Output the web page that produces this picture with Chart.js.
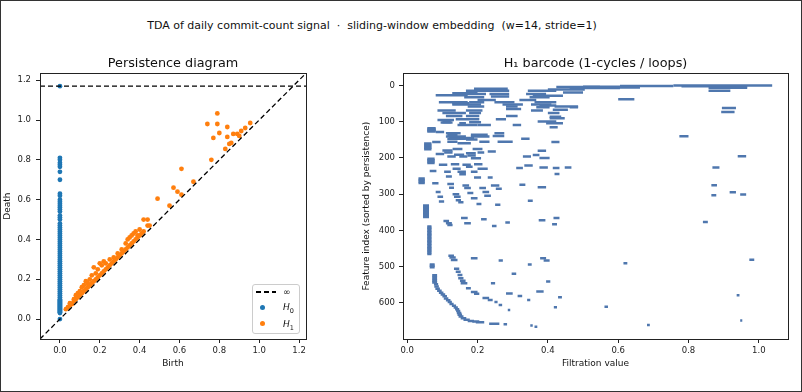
<!DOCTYPE html>
<html>
<head>
<meta charset="utf-8">
<script src="https://cdn.jsdelivr.net/npm/chart.js@4.4.1/dist/chart.umd.min.js"></script>
<style>
  html, body { margin: 0; padding: 0; background: #fff; }
  #fig { position: relative; width: 802px; height: 392px; overflow: hidden; font-family: 'DejaVu Sans', sans-serif; color: #111; }
  #fig canvas { position: absolute; top: 0; }
  #frame { position: absolute; left: 0; top: 0; width: 802px; height: 392px; box-sizing: border-box; border: 1px solid #333; pointer-events: none; }
  #suptitle { position: absolute; top: 19px; left: 0; width: 744px; text-align: center; font-size: 11px; line-height: 13px; white-space: pre; }
  .lg-box { position: absolute; left: 252px; top: 284px; width: 48px; height: 50px; box-sizing: border-box; border: 1px solid #ccc; border-radius: 3px; background: rgba(255,255,255,0.8); }
  .lg-dash { position: absolute; left: 256px; top: 291px; width: 20px; height: 1.5px; background: repeating-linear-gradient(90deg, #000 0 5px, transparent 5px 8px); }
  .lg-dot { position: absolute; width: 5px; height: 5px; border-radius: 50%; }
  .lg-txt { position: absolute; left: 283px; font-size: 9px; line-height: 10px; }
  .lg-txt sub { font-size: 6.5px; font-style: normal; }
</style>
</head>
<body>
<div id="fig">
  <div id="suptitle">TDA of daily commit-count signal  ·  sliding-window embedding  (w=14, stride=1)</div>
  <canvas id="pdChart" width="330" height="392" style="left:0"></canvas>
  <canvas id="barChart" width="472" height="392" style="left:330px"></canvas>
  <div class="lg-box"></div>
  <div class="lg-dash"></div>
  <div class="lg-txt" style="top:287px">∞</div>
  <div class="lg-dot" style="left:260px;top:305px;background:#1f77b4"></div>
  <div class="lg-txt" style="top:302px"><i>H</i><sub>0</sub></div>
  <div class="lg-dot" style="left:260px;top:321px;background:#ff7f0e"></div>
  <div class="lg-txt" style="top:319px"><i>H</i><sub>1</sub></div>
  <div id="frame"></div>
</div>
<script>
// Persistence diagram: H0 deaths (all born at 0), H1 (birth, death) pairs
const h0Inf = 1.17;
const h0Death = [
  1.17, 0.81, 0.80, 0.785, 0.775, 0.765, 0.74, 0.70, 0.63, 0.62,
  0.60, 0.59, 0.58, 0.57, 0.56, 0.55, 0.54, 0.52, 0.51, 0.50,
  0.48, 0.47, 0.46, 0.45, 0.44, 0.43, 0.42, 0.41, 0.40, 0.39,
  0.38, 0.37, 0.36, 0.35, 0.34, 0.33, 0.32, 0.31, 0.30, 0.29,
  0.28, 0.27, 0.26, 0.25, 0.24, 0.23, 0.22, 0.21, 0.20, 0.19,
  0.18, 0.17, 0.16, 0.15, 0.14, 0.13, 0.12, 0.11, 0.10, 0.095,
  0.09, 0.085, 0.08, 0.075, 0.07, 0.065, 0.06, 0.055, 0.05, 0.045,
  0.04, 0.035, 0.03, 0.0
];
const h1Birth = [
  0.03, 0.04, 0.05, 0.05, 0.06, 0.07, 0.07, 0.08, 0.08, 0.09,
  0.09, 0.10, 0.10, 0.11, 0.11, 0.12, 0.12, 0.13, 0.13, 0.14,
  0.14, 0.15, 0.15, 0.16, 0.16, 0.17, 0.17, 0.18, 0.18, 0.19,
  0.19, 0.20, 0.20, 0.21, 0.21, 0.22, 0.22, 0.23, 0.23, 0.24,
  0.25, 0.25, 0.26, 0.27, 0.27, 0.28, 0.29, 0.29, 0.30, 0.31,
  0.31, 0.32, 0.33, 0.33, 0.34, 0.34, 0.35, 0.35, 0.36, 0.36,
  0.37, 0.37, 0.38, 0.38, 0.39, 0.39, 0.40, 0.40, 0.41, 0.42,
  0.42, 0.44, 0.44, 0.45, 0.49, 0.55, 0.57, 0.59, 0.61, 0.61,
  0.67, 0.76, 0.74, 0.79, 0.79, 0.80, 0.77, 0.84, 0.84, 0.83,
  0.85, 0.87, 0.89, 0.91, 0.93, 0.955, 0.86, 0.90
];
const h1Death = [
  0.05, 0.06, 0.07, 0.08, 0.075, 0.09, 0.10, 0.10, 0.12, 0.11,
  0.13, 0.12, 0.14, 0.13, 0.16, 0.14, 0.17, 0.15, 0.19, 0.16,
  0.18, 0.17, 0.20, 0.18, 0.22, 0.19, 0.26, 0.20, 0.23, 0.21,
  0.25, 0.22, 0.28, 0.23, 0.27, 0.24, 0.29, 0.25, 0.28, 0.26,
  0.27, 0.30, 0.28, 0.29, 0.31, 0.30, 0.31, 0.33, 0.32, 0.33,
  0.35, 0.34, 0.35, 0.38, 0.36, 0.40, 0.37, 0.41, 0.38, 0.42,
  0.39, 0.43, 0.40, 0.44, 0.41, 0.42, 0.42, 0.45, 0.43, 0.44,
  0.50, 0.50, 0.47, 0.47, 0.605, 0.57, 0.66, 0.64, 0.625, 0.755,
  0.69, 0.80, 0.98, 1.033, 0.98, 0.935, 0.91, 0.965, 0.915, 0.855,
  0.88, 0.93, 0.93, 0.945, 0.96, 0.985, 0.885, 0.92
];
const pdTicks = [0.0, 0.2, 0.4, 0.6, 0.8, 1.0, 1.2];
const pdMin = -0.1, pdMax = 1.235;

// H1 barcode: feature index, birth, death
const barIdx = [
  0, 1, 2, 3, 4, 5, 6, 7, 9, 11,
  14, 14, 14, 19, 21, 23, 23, 23, 27, 28,
  30, 32, 32, 38, 40, 40, 46, 46, 46, 46,
  49, 52, 52, 52, 55, 58, 58, 58, 60, 60,
  62, 65, 67, 69, 69, 69, 73, 76, 76, 76,
  84, 84, 84, 86, 90, 93, 93, 95, 99, 101,
  101, 102, 104, 104, 109, 109, 109, 115, 118, 121,
  124, 127, 128, 132, 132, 136, 136, 139, 140, 141,
  141, 145, 147, 147, 149, 155, 155, 155, 156, 156,
  159, 160, 164, 168, 172, 176, 175, 175, 179, 180,
  182, 185, 185, 187, 189, 191, 192, 193, 195, 196,
  196, 196, 200, 201, 202, 206, 210, 214, 217, 217,
  219, 219, 221, 224, 226, 226, 226, 228, 228, 230,
  230, 236, 238, 238, 238, 244, 245, 251, 254, 254,
  257, 261, 265, 269, 270, 272, 274, 275, 276, 276,
  281, 282, 283, 283, 285, 294, 294, 295, 297, 300,
  301, 303, 304, 307, 307, 311, 317, 318, 320, 322,
  327, 329, 331, 335, 339, 343, 347, 351, 355, 359,
  363, 366, 366, 369, 372, 374, 377, 378, 380, 380,
  383, 385, 388, 389, 393, 397, 401, 405, 409, 413,
  417, 421, 425, 429, 433, 437, 441, 445, 449, 453,
  457, 461, 465, 470, 475, 477, 477, 481, 482, 483,
  483, 491, 494, 494, 498, 502, 506, 514, 520, 523,
  524, 529, 534, 539, 544, 532, 539, 541, 546, 546,
  549, 555, 560, 561, 567, 569, 570, 572, 574, 575,
  577, 579, 581, 582, 585, 587, 588, 592, 592, 593,
  598, 598, 603, 606, 608, 611, 612, 613, 618, 620,
  623, 628, 633, 638, 643, 647, 649, 650, 652, 654,
  658, 659, 661, 663, 666
];
const barBirth = [
  .757, .605, .780, .500, .424, .576, .857, .462, .190, .400,
  .343, .167, .857, .443, .128, .167, .234, .338, .081, .357,
  .238, .162, .348, .600, .319, .200, .090, .176, .248, .362,
  .128, .128, .271, .352, .376, .172, .281, .419, .367, .462,
  .895, .281, .414, .086, .167, .352, .893, .100, .176, .400,
  .110, .167, .281, .405, .405, .252, .138, .086, .371, .100,
  .176, .095, .395, .148, .143, .200, .300, .405, .057, .057,
  .057, .057, .081, .110, .248, .181, .114, .243, .774, .110,
  .181, .119, .114, .324, .167, .114, .205, .257, .071, .410,
  .143, .048, .048, .048, .048, .048, .129, .186, .100, .371,
  .229, .105, .200, .167, .081, .133, .357, .171, .940, .114,
  .148, .329, .376, .181, .057, .057, .057, .057, .124, .190,
  .090, .157, .333, .167, .448, .376, .868, .310, .414, .129,
  .200, .064, .105, .143, .181, .419, .148, .110, .190, .229,
  .032, .032, .032, .032, .071, .114, .319, .865, .157, .238,
  .371, .119, .162, .205, .252, .081, .214, .917, .171, .129,
  .947, .865, .219, .086, .133, .181, .138, .343, .090, .145,
  .197, .250, .045, .045, .045, .045, .045, .045, .045, .045,
  .045, .153, .416, .210, .374, .103, .841, .279, .110, .162,
  .412, .114, .241, .057, .057, .057, .057, .057, .057, .057,
  .057, .057, .057, .057, .057, .057, .057, .057, .057, .057,
  .057, .057, .057, .117, .120, .181, .378, .973, .124, .260,
  .388, .615, .343, .064, .064, .064, .133, .138, .297, .143,
  .071, .071, .071, .071, .071, .145, .150, .395, .152, .238,
  .076, .077, .167, .080, .085, .367, .181, .090, .281, .190,
  .095, .937, .314, .100, .429, .214, .104, .229, .341, .110,
  .248, .115, .120, .260, .127, .561, .417, .132, .136, .286,
  .139, .141, .143, .146, .152, .160, .947, .172, .185, .195,
  .233, .274, .682, .350, .362
];
const barDeath = [
  1.038, .757, .967, .605, .548, .662, .967, .605, .286, .505,
  .424, .290, .919, .500, .200, .224, .290, .395, .172, .443,
  .290, .219, .405, .646, .367, .252, .172, .219, .305, .424,
  .176, .210, .329, .410, .424, .219, .314, .486, .405, .486,
  .935, .324, .457, .138, .214, .386, .931, .167, .210, .433,
  .157, .205, .314, .438, .448, .281, .205, .133, .424, .124,
  .210, .129, .443, .167, .200, .238, .324, .428, .081, .081,
  .081, .081, .105, .152, .276, .229, .143, .276, .800, .167,
  .234, .190, .167, .348, .200, .143, .234, .300, .095, .433,
  .181, .069, .069, .069, .069, .069, .157, .214, .129, .395,
  .252, .129, .219, .195, .105, .162, .376, .195, .964, .138,
  .171, .352, .405, .210, .078, .078, .078, .078, .148, .214,
  .114, .181, .357, .186, .467, .400, .888, .329, .433, .152,
  .229, .083, .124, .167, .200, .433, .167, .127, .210, .243,
  .050, .050, .050, .050, .089, .133, .336, .881, .176, .262,
  .395, .133, .181, .224, .269, .095, .233, .935, .188, .148,
  .964, .879, .238, .102, .152, .200, .153, .357, .105, .160,
  .211, .265, .062, .062, .062, .062, .062, .062, .062, .062,
  .062, .172, .433, .226, .393, .119, .855, .292, .127, .181,
  .426, .129, .254, .069, .069, .069, .069, .069, .069, .069,
  .069, .069, .069, .069, .069, .069, .069, .069, .069, .069,
  .069, .069, .069, .133, .138, .200, .395, .987, .143, .272,
  .405, .626, .354, .078, .078, .078, .148, .152, .310, .157,
  .085, .085, .085, .085, .085, .160, .166, .407, .171, .250,
  .088, .090, .181, .093, .098, .388, .200, .103, .300, .205,
  .108, .945, .327, .113, .440, .233, .117, .243, .350, .123,
  .257, .127, .132, .270, .139, .571, .426, .144, .148, .293,
  .151, .154, .156, .160, .168, .178, .953, .190, .205, .219,
  .262, .284, .690, .357, .370
];
const barXTicks = [0.0, 0.2, 0.4, 0.6, 0.8, 1.0];
const barYTicks = [0, 100, 200, 300, 400, 500, 600];

if (barIdx.length !== barBirth.length || barIdx.length !== barDeath.length) {
  console.error('barcode arrays differ in length', barIdx.length, barBirth.length, barDeath.length);
}

Chart.defaults.font.family = "'DejaVu Sans', sans-serif";
Chart.defaults.color = '#222';

// axes box on all four sides, like matplotlib spines
const framePlugin = {
  id: 'frame',
  afterDraw(chart) {
    const {ctx, chartArea: a} = chart;
    ctx.save();
    ctx.strokeStyle = '#222';
    ctx.lineWidth = 1;
    ctx.strokeRect(Math.round(a.left) + 0.5, Math.round(a.top) + 0.5,
      Math.round(a.right - a.left), Math.round(a.bottom - a.top));
    ctx.restore();
  }
};

function axisStyle(ticks, fmt, pad) {
  return {
    afterBuildTicks: s => { s.ticks = ticks.map(v => ({value: v})); },
    ticks: {font: {size: 8.5}, color: '#222', padding: pad, autoSkip: false, maxRotation: 0, callback: fmt},
    grid: {display: true, drawOnChartArea: false, drawTicks: true, tickLength: 4, color: '#222', offset: false},
    border: {display: false}
  };
}

// Persistence diagram
new Chart(document.getElementById('pdChart'), {
  type: 'scatter',
  data: {
    datasets: [
      {
        label: 'diagonal',
        data: [{x: pdMin, y: pdMin}, {x: pdMax, y: pdMax}],
        showLine: true, pointRadius: 0, borderColor: '#000', borderWidth: 1.3, borderDash: [5, 3]
      },
      {
        label: '∞',
        data: [{x: pdMin, y: h0Inf}, {x: pdMax, y: h0Inf}],
        showLine: true, pointRadius: 0, borderColor: '#000', borderWidth: 1.3, borderDash: [5, 3]
      },
      {
        label: 'H1',
        data: h1Birth.map((b, i) => ({x: b, y: h1Death[i]})),
        pointRadius: 2.4, pointBorderWidth: 0, backgroundColor: '#ff7f0e', borderColor: '#ff7f0e'
      },
      {
        label: 'H0',
        data: h0Death.map(d => ({x: 0, y: d})),
        pointRadius: 2.4, pointBorderWidth: 0, backgroundColor: '#1f77b4', borderColor: '#1f77b4'
      }
    ]
  },
  options: {
    responsive: false,
    animation: false,
    events: [],
    layout: {padding: {left: 0, right: 24, top: 0, bottom: 23}},
    plugins: {
      legend: {display: false},
      tooltip: {enabled: false},
      title: {
        display: true, text: 'Persistence diagram', fullSize: false,
        font: {size: 12.8, weight: 'normal'}, color: '#111',
        padding: {top: 55.5, bottom: 2.4}
      }
    },
    scales: {
      x: Object.assign(axisStyle(pdTicks, v => v.toFixed(1), 3), {
        type: 'linear', min: pdMin, max: pdMax,
        afterFit: s => { s.height = 30; },
        title: {display: true, text: 'Birth', font: {size: 9}, color: '#111', padding: {top: 0, bottom: 0}}
      }),
      y: Object.assign(axisStyle(pdTicks, v => v.toFixed(1), 5), {
        type: 'linear', min: pdMin, max: pdMax,
        afterFit: s => { s.width = 40; },
        title: {display: true, text: 'Death', font: {size: 9}, color: '#111', padding: {top: 2.6, bottom: 0}}
      })
    }
  },
  plugins: [framePlugin]
});

// H1 barcode
new Chart(document.getElementById('barChart'), {
  type: 'bar',
  data: {
    datasets: [{
      label: 'H1 bars',
      data: barIdx.map((k, i) => ({y: k, x: [barBirth[i], barDeath[i]]})),
      backgroundColor: '#4f77ae',
      borderWidth: 0,
      barThickness: 2.5,
      inflateAmount: 0,
      grouped: false
    }]
  },
  options: {
    indexAxis: 'y',
    responsive: false,
    animation: false,
    events: [],
    layout: {padding: {left: 0, right: 14, top: 0, bottom: 23}},
    plugins: {
      legend: {display: false},
      tooltip: {enabled: false},
      title: {
        display: true, text: 'H₁ barcode (1-cycles / loops)', fullSize: false,
        font: {size: 12.8, weight: 'normal'}, color: '#111',
        padding: {top: 55.5, bottom: 2.4}
      }
    },
    scales: {
      x: Object.assign(axisStyle(barXTicks, v => v.toFixed(1), 3), {
        type: 'linear', min: -0.012, max: 1.083, offset: false,
        afterFit: s => { s.height = 30; },
        title: {display: true, text: 'Filtration value', font: {size: 9}, color: '#111', padding: {top: 0, bottom: 0}}
      }),
      y: Object.assign(axisStyle(barYTicks, v => String(v), 4), {
        type: 'linear', min: -34, max: 700, reverse: true, offset: false,
        afterFit: s => { s.width = 73; },
        title: {display: true, text: 'Feature index (sorted by persistence)', font: {size: 9}, color: '#111', padding: {top: 31.3, bottom: 0}}
      })
    }
  },
  plugins: [framePlugin]
});
</script>
</body>
</html>
